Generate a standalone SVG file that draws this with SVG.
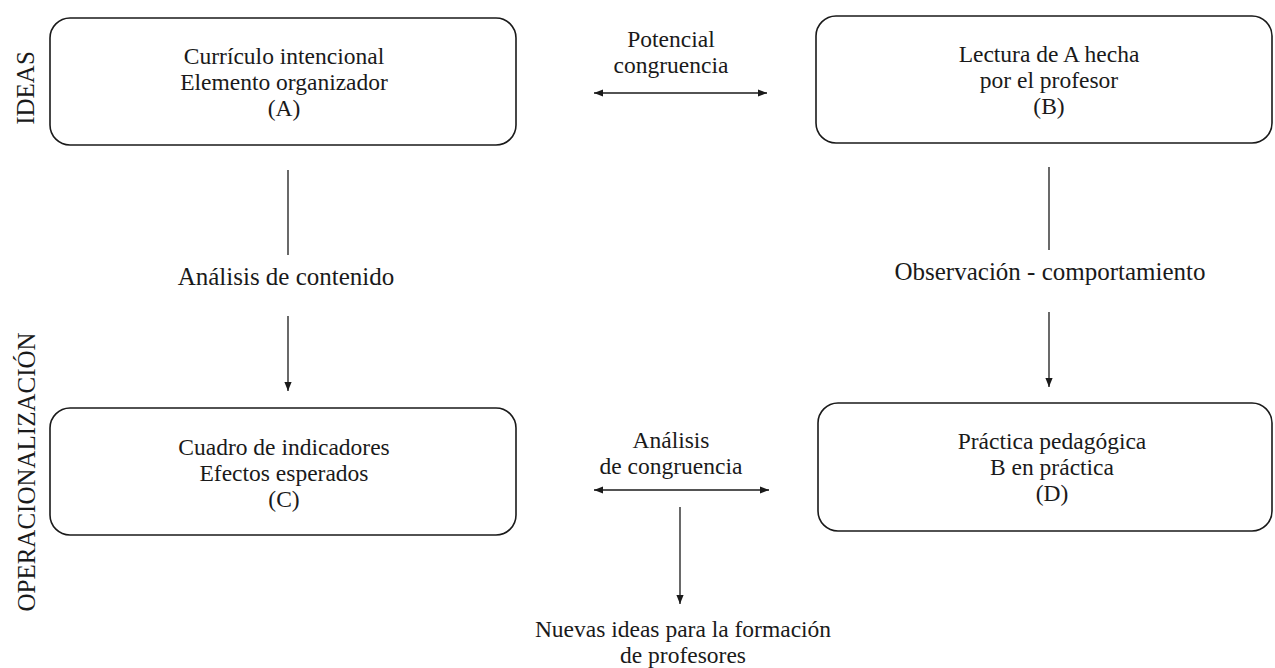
<svg xmlns="http://www.w3.org/2000/svg" width="1275" height="668" viewBox="0 0 1275 668">
<style>
.box{fill:none;stroke:#1a1a1a;stroke-width:1.6}
.t{font-family:'Liberation Serif','Times New Roman',serif;font-size:23.5px;fill:#1a1a1a;text-anchor:middle}
.big{font-size:25px}
.c{stroke:#1a1a1a;stroke-width:1.3;fill:none}
</style>
<defs>
<marker id="ah" viewBox="0 0 10 10" refX="10" refY="5" markerWidth="9" markerHeight="9" markerUnits="userSpaceOnUse" orient="auto-start-reverse">
<path d="M0,1 L10,5 L0,9 Z" fill="#1a1a1a"/>
</marker>
</defs>
<rect width="1275" height="668" fill="#ffffff"/>
<g id="label-ideas">
<text class="t big" x="34" y="88" transform="rotate(-90 34 88)">IDEAS</text>
</g>
<g id="label-operacionalizacion">
<text class="t big" x="35" y="472" transform="rotate(-90 35 472)">OPERACIONALIZACIÓN</text>
</g>
<g id="node-A">
<rect class="box" x="50" y="18" width="466" height="127" rx="20"/>
<text class="t"><tspan x="284" y="64">Currículo intencional</tspan><tspan x="284" y="90">Elemento organizador</tspan><tspan x="284" y="116">(A)</tspan></text>
</g>
<g id="node-B">
<rect class="box" x="816" y="16" width="456" height="127" rx="20"/>
<text class="t"><tspan x="1049" y="62">Lectura de A hecha</tspan><tspan x="1049" y="88">por el profesor</tspan><tspan x="1049" y="114">(B)</tspan></text>
</g>
<g id="node-C">
<rect class="box" x="50" y="408" width="466" height="127" rx="20"/>
<text class="t"><tspan x="284" y="455">Cuadro de indicadores</tspan><tspan x="284" y="481">Efectos esperados</tspan><tspan x="284" y="507">(C)</tspan></text>
</g>
<g id="node-D">
<rect class="box" x="818" y="403" width="454" height="128" rx="20"/>
<text class="t"><tspan x="1052" y="449">Práctica pedagógica</tspan><tspan x="1052" y="475">B en práctica</tspan><tspan x="1052" y="501">(D)</tspan></text>
</g>
<g id="label-nuevas">
<text class="t"><tspan x="683" y="637">Nuevas ideas para la formación</tspan><tspan x="683" y="663">de profesores</tspan></text>
</g>
<g id="connectors">
<line class="c" x1="594" y1="93" x2="767" y2="93" marker-start="url(#ah)" marker-end="url(#ah)"/>
<text class="t"><tspan x="671" y="47">Potencial</tspan><tspan x="671" y="73">congruencia</tspan></text>
<line class="c" x1="288" y1="170" x2="288" y2="255"/>
<text class="t big" x="286" y="285">Análisis de contenido</text>
<line class="c" x1="288" y1="316" x2="288" y2="391" marker-end="url(#ah)"/>
<line class="c" x1="1049" y1="167" x2="1049" y2="250"/>
<text class="t big" x="1050" y="280">Observación -  comportamiento</text>
<line class="c" x1="1049" y1="312" x2="1049" y2="387" marker-end="url(#ah)"/>
<line class="c" x1="594" y1="490" x2="769" y2="490" marker-start="url(#ah)" marker-end="url(#ah)"/>
<text class="t"><tspan x="671" y="448">Análisis</tspan><tspan x="671" y="474">de congruencia</tspan></text>
<line class="c" x1="680" y1="507" x2="680" y2="604" marker-end="url(#ah)"/>
</g>
</svg>
